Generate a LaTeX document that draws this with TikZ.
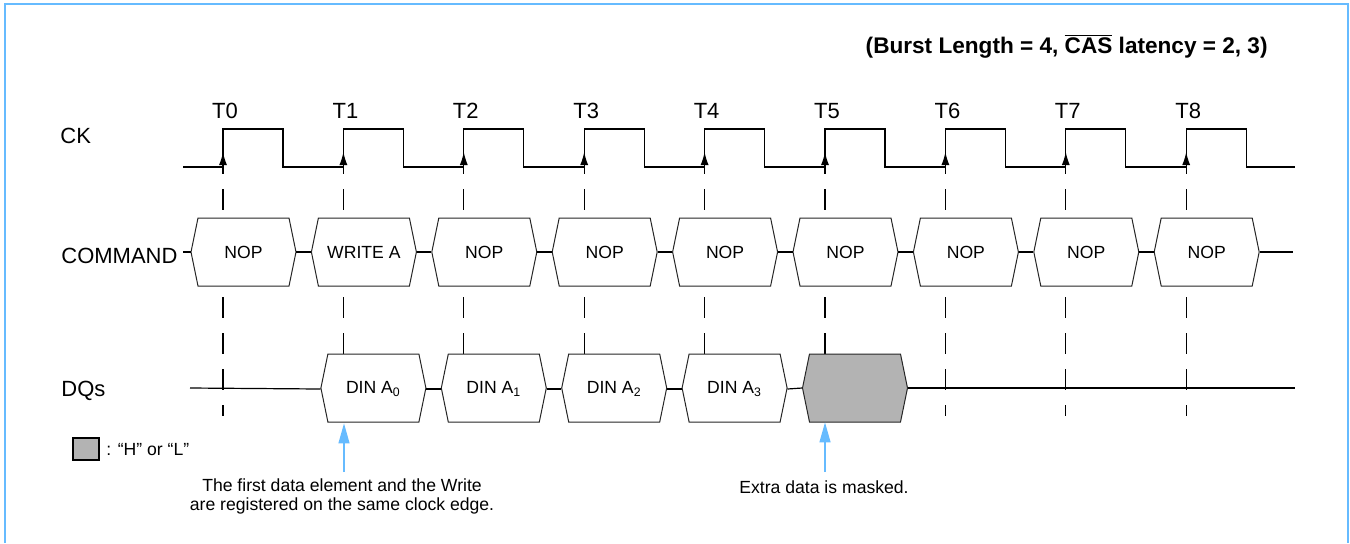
\documentclass[tikz,border=0pt]{standalone}
\usepackage{fontspec}
\setmainfont{Liberation Sans}
\usetikzlibrary{arrows.meta}

\definecolor{noteblue}{RGB}{102,187,255}
\definecolor{maskgray}{RGB}{179,179,179}

\begin{document}
\begin{tikzpicture}[x=0.5pt, y=-0.5pt,
    sig/.style={line width=0.6pt},
    hexline/.style={line width=0.5pt, draw=black!85},
    hexbox/.style={minimum width=52.5pt, minimum height=34pt, inner sep=0pt, font=\fontsize{8.8}{10}\selectfont},
    rowlabel/.style={anchor=west, inner sep=0pt, font=\fontsize{11}{12}\selectfont},
    guide/.style={line width=0.6pt, dash pattern=on 10.5pt off 7.5pt},
    note/.style={align=center, inner sep=0pt, font=\fontsize{8.8}{9.5}\selectfont},
    notearrow/.style={noteblue, line width=0.65pt, -{Triangle[length=10pt,width=5.5pt]}}]

  \useasboundingbox (0,0) rectangle (1350,543);
  \draw[noteblue, line width=1.3pt] (5,543) -- (5,4) -- (1348,4) -- (1348,543);

  % title
  \node[anchor=east, inner sep=0pt, font=\fontsize{11.3}{13}\selectfont\bfseries] (title) at (1268,46)
    {(Burst Length = 4, $\overline{\hbox{CAS}}$ latency = 2, 3)};

  % row names
  \node[rowlabel] (ck) at (60,136) {CK};
  \node[rowlabel] (cmd) at (61,256) {COMMAND};
  \node[rowlabel] (dq) at (61,391) {DQs};

  % clock edges and guides
  \foreach \k in {0,...,8} {
    \coordinate (e\k) at ({223+120.4*\k},167);
    \node[font=\fontsize{11}{12}\selectfont] (t\k) at ({225+120.4*\k},111) {T\k};
    \draw[guide] (e\k |- 0,153) -- (e\k |- 0,416);
  }
  \draw[sig] (183,167) \foreach \k in {0,...,8} {
      -- ({223+120.4*\k},167) -- ({223+120.4*\k},129) -- ({283+120.4*\k},129) -- ({283+120.4*\k},167)
    } -- (1295,167);
  \foreach \k in {0,...,8}
    \draw[sig, -{Latex[length=6.5pt,width=4pt]}] (e\k) -- (e\k |- 0,152);

  % command bus
  \foreach \k/\txt in {0/NOP,1/WRITE A,2/NOP,3/NOP,4/NOP,5/NOP,6/NOP,7/NOP,8/NOP} {
    \pgfmathsetmacro\cx{243.5+120.4*\k}
    \draw[hexline, fill=white] (\cx-52.5,252) -- ++(7,-34) -- ++(91,0) -- ++(7,34) -- ++(-7,34) -- ++(-91,0) -- cycle;
    \node[hexbox] (c\k) at (\cx,252) {\txt};
  }
  \draw[sig] (183,252) -- (c0.west);
  \foreach \k [count=\n from 1] in {0,...,7}
    \draw[sig] (c\k.east) -- (c\n.west);
  \draw[sig] (c8.east) -- (1293,252);

  % data bus
  \foreach \k/\txt in {1/0,2/1,3/2,4/3} {
    \pgfmathsetmacro\cx{253+120.4*\k}
    \draw[hexline, fill=white] (\cx-52.5,388) -- ++(7,-34) -- ++(91,0) -- ++(7,34) -- ++(-7,34) -- ++(-91,0) -- cycle;
    \node[hexbox] (d\k) at (\cx,389) {DIN A\textsubscript{\txt}};
  }
  \pgfmathsetmacro\cx{253+120.4*5}
  \draw[hexline, fill=maskgray] (\cx-52.5,388) -- ++(7,-34) -- ++(91,0) -- ++(7,34) -- ++(-7,34) -- ++(-91,0) -- cycle;
  \node[hexbox] (d5) at (\cx,388) {};
  \draw[sig] (190,388) -- (d1.west);
  \foreach \k [count=\n from 2] in {1,...,4}
    \draw[sig] (d\k.east) -- (d\n.west);
  \draw[sig] (d5.east) -- (1295,388);

  % legend
  \node[draw, fill=maskgray, line width=0.6pt, minimum width=13pt, minimum height=11pt, inner sep=0pt] (key) at (86,449) {};
  \node[note, anchor=west] (keytext) at (106,450) {: “H” or “L”};

  % notes
  \coordinate (a1) at (344,472);
  \draw[notearrow] (a1) -- (a1 |- d1.south);
  \node[note] (note1) at (342,496) {The first data element and the Write\\are registered on the same clock edge.};
  \coordinate (a5) at (825,472);
  \draw[notearrow] (a5) -- (a5 |- d5.south);
  \node[note] (note5) at (824,487) {Extra data is masked.};

\end{tikzpicture}
\end{document}
